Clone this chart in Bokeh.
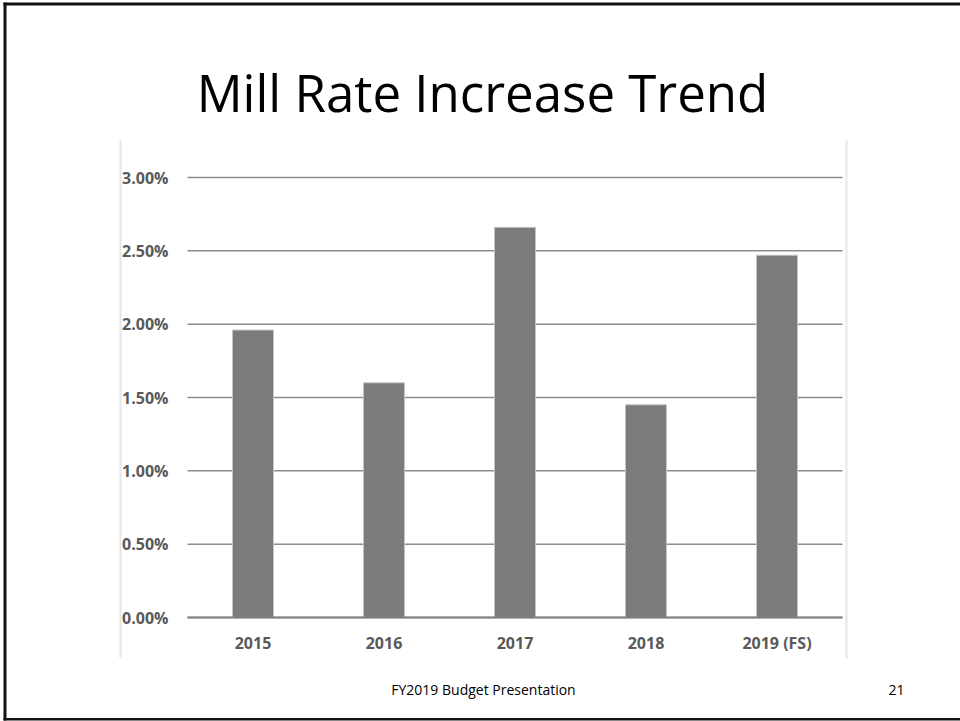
from bokeh.plotting import figure
from bokeh.models import (Range1d, FixedTicker, PrintfTickFormatter,
                          Label, BoxAnnotation, ColumnDataSource)
from bokeh.embed import file_html
from bokeh.resources import INLINE

# ---- data ----
years = ["2015", "2016", "2017", "2018", "2019 (FS)"]
increase_pct = [1.96, 1.60, 2.66, 1.45, 2.47]
y_ticks = [0.0, 0.5, 1.0, 1.5, 2.0, 2.5, 3.0]
title_text = "Mill Rate Increase Trend"
footer_text = "FY2019 Budget Presentation"
page_number = "21"

# ---- layout constants (pixels) ----
W, H = 960, 721
PLOT_LEFT, PLOT_RIGHT = 187, 842      # gridline extent
ZERO_Y, TOP_Y = 617, 177              # pixel rows of 0.00% and 3.00%
FONT = "Open Sans"
LABEL_GRAY = "#595959"

n = len(years)
idx = list(range(n))
px_per_cat = (PLOT_RIGHT - PLOT_LEFT) / n
x_start = -0.5 - PLOT_LEFT / px_per_cat
x_end = x_start + W / px_per_cat
px_per_pct = (ZERO_Y - TOP_Y) / y_ticks[-1]
y_start = -(H - ZERO_Y) / px_per_pct
y_end = y_start + H / px_per_pct

source = ColumnDataSource(data=dict(x=idx, pct=increase_pct, year=years))

p = figure(width=W, height=H,
           x_range=Range1d(x_start, x_end), y_range=Range1d(y_start, y_end),
           output_backend="svg", toolbar_location=None,
           min_border=0, min_border_left=0, min_border_right=0,
           min_border_top=0, min_border_bottom=0)
p.title.visible = False
p.background_fill_color = "white"
p.border_fill_color = "white"
p.outline_line_color = None
p.xgrid.visible = False
p.ygrid.visible = False

# horizontal gridlines across the category extent
p.segment(x0=[-0.5] * len(y_ticks), x1=[n - 0.5] * len(y_ticks), y0=y_ticks, y1=y_ticks,
          line_color="#8c8c8c", line_width=1.5)

# bars
p.vbar(x="x", top="pct", width=0.313, source=source,
       fill_color="#7b7b7b", line_color="#c4c4c4", line_width=1)

# y axis (drawn at the left edge of the category area)
p.yaxis.fixed_location = -0.5
p.yaxis.bounds = (y_ticks[0], y_ticks[-1])
p.yaxis.ticker = FixedTicker(ticks=y_ticks)
p.yaxis.formatter = PrintfTickFormatter(format="%.2f%%")
p.yaxis.axis_line_color = None
p.yaxis.major_tick_line_color = None
p.yaxis.minor_tick_line_color = None
p.yaxis.major_tick_out = 0
p.yaxis.major_tick_in = 0
p.yaxis.major_label_standoff = 19
p.yaxis.major_label_text_font = FONT
p.yaxis.major_label_text_font_style = "bold"
p.yaxis.major_label_text_font_size = "16px"
p.yaxis.major_label_text_color = LABEL_GRAY

# x axis (drawn at 0%)
p.xaxis.fixed_location = 0
p.xaxis.bounds = (-0.5, n - 0.5)
p.xaxis.ticker = FixedTicker(ticks=idx)
p.xaxis.major_label_overrides = {i: y for i, y in zip(idx, years)}
p.xaxis.axis_line_color = "#7f7f7f"
p.xaxis.axis_line_width = 2
p.xaxis.major_tick_line_color = None
p.xaxis.minor_tick_line_color = None
p.xaxis.major_tick_out = 0
p.xaxis.major_tick_in = 0
p.xaxis.major_label_standoff = 14
p.xaxis.major_label_text_font = FONT
p.xaxis.major_label_text_font_style = "bold"
p.xaxis.major_label_text_font_size = "16px"
p.xaxis.major_label_text_color = LABEL_GRAY

# slide title and footer (screen units, origin bottom-left of canvas)
p.add_layout(Label(x=482, y=H - 91, x_units="screen", y_units="screen", text=title_text,
                   text_align="center", text_baseline="alphabetic",
                   text_font=FONT, text_font_size="51px", text_color="black"))
p.add_layout(Label(x=483, y=H - 689, x_units="screen", y_units="screen", text=footer_text,
                   text_align="center", text_baseline="alphabetic",
                   text_font=FONT, text_font_size="14px", text_color="black"))
p.add_layout(Label(x=896, y=H - 689, x_units="screen", y_units="screen", text=page_number,
                   text_align="center", text_baseline="alphabetic",
                   text_font=FONT, text_font_size="14px", text_color="black"))

# faint chart-area side lines
for lft in (119, 845):
    p.add_layout(BoxAnnotation(left=lft, right=lft + 2, top=H - 140, bottom=H - 658,
                               left_units="screen", right_units="screen",
                               top_units="screen", bottom_units="screen",
                               fill_color="#e6e6e6", fill_alpha=1, line_color=None))

# slide border (left, top, bottom; right edge lies beyond the window)
border_boxes = [(3, 6, H - 2, H - 720), (3, W, H - 2, H - 5), (3, W, H - 717.5, H - 720)]
for (l, r, t, b) in border_boxes:
    p.add_layout(BoxAnnotation(left=l, right=r, top=t, bottom=b,
                               left_units="screen", right_units="screen",
                               top_units="screen", bottom_units="screen",
                               fill_color="#111111", fill_alpha=1, line_color=None))

open("out.html", "w").write(file_html(p, INLINE))
